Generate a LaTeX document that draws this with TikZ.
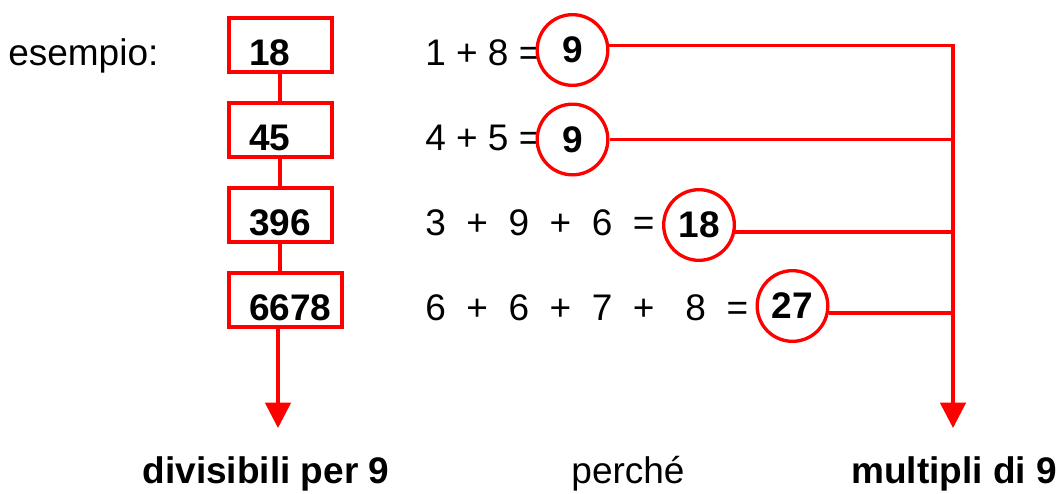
\documentclass[tikz,border=0pt]{standalone}
\usepackage{fontspec}
\setmainfont{Liberation Sans}
\usetikzlibrary{arrows.meta}

\begin{document}
\begin{tikzpicture}[
  x=0.75pt, y=-0.75pt,
  box/.style={draw=red, line width=3pt, anchor=base west, inner xsep=0pt, inner ysep=0pt,
    text width=76.9pt, text height=35.25pt, text depth=5.6pt, align=left,
    font=\fontsize{27.75}{33}\selectfont\bfseries, execute at begin node={\hspace*{15pt}}},
  ring/.style={circle, draw=red, line width=2.5pt, minimum size=53pt, inner sep=0pt,
    font=\fontsize{27.75}{33}\selectfont\bfseries},
  plain/.style={anchor=base west, inner sep=0pt, font=\fontsize{27.75}{33}\selectfont},
  caption/.style={anchor=base, inner sep=0pt, font=\fontsize{27.75}{33}\selectfont},
  link/.style={draw=red, line width=2.75pt},
  arrow/.style={link, -{Triangle[length=19pt, width=19pt]}}
]
\useasboundingbox (0,0) rectangle (1059,493);

\node[plain] (ex) at (8,65) {esempio:};

\node[box] (b1) at (227,65) {18};
\node[box] (b2) at (227,150) {45};
\node[box] (b3) at (227,235) {396};
\node[box, text width=84.75pt] (b4) at (227,320) {6678};

\node[plain] (s1) at (425,65) {1 + 8 =};
\node[plain] (s2) at (425,150) {4 + 5 =};
\node[plain] (s3) at (425,235) {3~~+~~9~~+~~6~~=};
\node[plain] (s4) at (425,320) {6~~+~~6~~+~~7~~+~~~8~~=};

\node[ring] (r1) at (572.5,50) {9};
\node[ring] (r2) at (572.5,139.5) {9};
\node[ring] (r3) at (699,225) {18};
\node[ring] (r4) at (792.5,306) {27};

\coordinate (lend) at (278,428);
\coordinate (rend) at (953,428);

\draw[link] (b1) -- (b2);
\draw[link] (b2) -- (b3);
\draw[link] (b3.south) -- (b3.south |- b4.north);
\draw[arrow] (lend |- b4.south) -- (lend);

\draw[arrow] (r1.7) -| (rend);
\draw[link] (r2.east) -- (r2.east -| rend);
\draw[link] (r3.-11) -- (r3.-11 -| rend);
\draw[link] (r4.-11) -- (r4.-11 -| rend);

\node[caption, font=\fontsize{27.75}{33}\selectfont\bfseries] (div) at (266,483) {divisibili per 9};
\node[caption] (why) at (628,483) {perché};
\node[caption, font=\fontsize{27.75}{33}\selectfont\bfseries] (mul) at (954,483) {multipli di 9};
\end{tikzpicture}
\end{document}
